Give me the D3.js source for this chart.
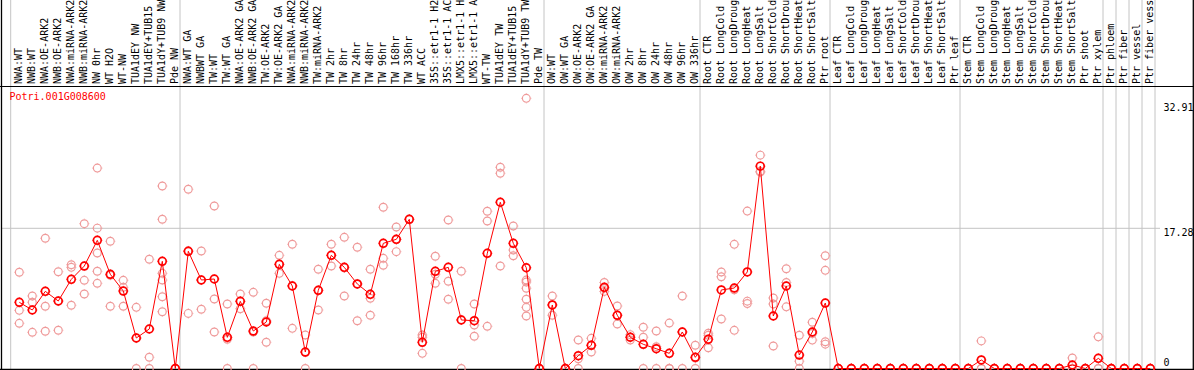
<!DOCTYPE html>
<meta charset="utf-8">
<style>
body { margin: 0; background: #fff; }
text { font-family: "DejaVu Sans Mono", monospace; font-size: 10px; }
</style>
<body>
<script src="https://d3js.org/d3.v7.min.js"></script>
<script>
// sample names, left to right
var labels = [
  "NWA:WT","NWB:WT","NWA:OE-ARK2","NWB:OE-ARK2","NWA:miRNA-ARK2","NWB:miRNA-ARK2","NW 0hr","WT H2O","WT-NW",
  "TUA1dEY NW","TUA1dEY+TUB15 NW","TUA1dY+TUB9 NW","Pde NW",
  "NWA:WT GA","NWBWT GA","TW:WT","TW:WT GA","NWA:OE-ARK2 GA","NWB:OE-ARK2 GA","TW:OE-ARK2","TW:OE-ARK2 GA",
  "NWA:miRNA-ARK2","NWB:miRNA-ARK2","TW:miRNA-ARK2","TW 2hr","TW 8hr","TW 24hr","TW 48hr","TW 96hr","TW 168hr","TW 336hr",
  "WT ACC","35S::etr1-1 H2O","35S::etr1-1 ACC","LMX5::etr1-1 H2O","LMX5::etr1-1 ACC","WT-TW","TUA1dEY TW",
  "TUA1dEY+TUB15 TW","TUA1dY+TUB9 TW","Pde TW",
  "OW:WT","OW:WT GA","OW:OE-ARK2","OW:OE-ARK2 GA","OW:miRNA-ARK2","OW:miRNA-ARK2 GA","OW 2hr","OW 8hr","OW 24hr",
  "OW 48hr","OW 96hr","OW 336hr",
  "Root CTR","Root LongCold","Root LongDrought","Root LongHeat","Root LongSalt","Root ShortCold","Root ShortDrought",
  "Root ShortHeat","Root ShortSalt","Ptr root",
  "Leaf CTR","Leaf LongCold","Leaf LongDrought","Leaf LongHeat","Leaf LongSalt","Leaf ShortCold","Leaf ShortDrought",
  "Leaf ShortHeat","Leaf ShortSalt","Ptr leaf",
  "Stem CTR","Stem LongCold","Stem LongDrought","Stem LongHeat","Stem LongSalt","Stem ShortCold","Stem ShortDrought",
  "Stem ShortHeat","Stem ShortSalt","Ptr shoot","Ptr xylem",
  "Ptr phloem","Ptr fiber","Ptr vessel","Ptr fiber vessel"
];

// number of samples in each separated block
var groupSizes = [13, 28, 12, 10, 10, 11, 1, 1, 1, 1];

// mean expression per sample
var means = [
  8.16, 7.21, 9.51, 8.32, 10.99, 12.63, 15.80, 11.61, 9.55, 3.76, 4.87, 13.21, 0,
  14.45, 10.91, 11.03, 3.84, 8.28, 4.62, 5.73, 12.84, 10.17, 2.03, 9.64, 13.95, 12.47, 10.42, 9.14, 15.43,
  15.92, 18.39, 3.23, 11.98, 12.47, 5.98, 5.89, 14.2, 20.49, 15.43, 12.42, 0,
  7.83, 0, 1.58, 2.86, 10.0, 6.56, 3.85, 2.98, 2.44, 1.87, 4.5, 1.38,
  3.6, 9.68, 9.92, 11.9, 24.94, 6.47, 10.17, 1.66, 4.5, 8.07,
  0, 0, 0, 0, 0, 0, 0, 0, 0, 0,
  0, 1.05, 0, 0, 0, 0, 0, 0, 0.43, 0, 1.25,
  0, 0, 0, 0
];

// individual replicates per sample
var replicates = [
  [11.86, 7.17, 5.57], [8.94, 8.16, 4.46], [16.05, 7.67, 4.59], [11.93, 8.3, 4.71], [12.79, 12.47, 7.79],
  [17.85, 10.87, 9.18], [24.7, 17.3, 14.24, 11.98, 10.5], [15.68, 11.5, 7.67], [10.87, 10.0, 7.67],
  [7.54, 3.74, 0], [13.46, 1.38, 0], [22.49, 18.39, 11.73, 10.9, 8.85, 7.0], [0, 0, 0],
  [22.09, 14.5, 6.79], [14.48, 10.9, 7.3], [20.03, 8.57, 4.5], [7.95, 3.6, 0], [9.18, 8.28, 7.37],
  [9.39, 4.5, 0], [8.04, 5.9, 3.23], [13.95, 12.84, 11.73], [15.31, 10.2, 4.95], [4.13, 2.0, 0],
  [12.23, 9.6, 7.21], [15.31, 13.95, 12.63], [16.17, 12.4, 8.94], [14.94, 10.42, 5.89],
  [12.23, 8.65, 6.56], [19.87, 13.58, 12.72], [17.44, 15.9, 14.4], [18.39], [4.13, 3.85, 1.87],
  [13.83, 11.61, 10.5], [18.3, 10.75, 8.53], [11.98, 6.0, 0], [7.95, 5.36, 3.97], [19.38, 18.18, 5.2],
  [24.8, 24.06, 12.63], [17.56, 14.6, 13.9], [33.3, 10.9, 10.66, 9.89, 8.53, 7.54, 6.47], [0, 0, 0],
  [8.94, 7.83, 6.56], [0, 0, 0], [3.51, 1.2, 0], [3.72, 2.86, 2.03], [10.6, 9.9, 9.5], [7.7, 6.56, 5.48],
  [4.17, 3.85, 3.51], [5.08, 3.85, 0], [4.62, 2.69, 0], [5.6, 0, 0], [8.94, 4.5, 0], [2.86, 1.3, 0],
  [4.34, 4.09, 2.56], [11.9, 11.3, 6.1], [15.3, 9.7, 4.7], [19.4, 8.3, 8.0], [26.3, 24.3, 24.2],
  [8.69, 7.95, 2.77], [12.3, 10.6, 7.6], [4.1, 0.9, 0], [5.7, 4.3, 3.5], [13.9, 12.1, 3.3, 3.0],
  [0, 0, 0], [0, 0, 0], [0, 0, 0], [0, 0, 0], [0, 0, 0], [0, 0, 0], [0, 0, 0], [0, 0, 0], [0, 0, 0], [0, 0, 0],
  [0, 0, 0], [3.4, 0, 0], [0, 0, 0], [0, 0, 0], [0, 0, 0], [0, 0, 0], [0, 0, 0], [0, 0, 0], [1.3, 0, 0],
  [0, 0, 0], [3.9, 0, 0],
  [0, 0, 0], [0, 0, 0], [0, 0, 0], [0, 0, 0]
];

var yTicks = [0, 17.28, 32.91];
var geneName = "Potri.001G008600";

var width = 1194, height = 370,
    headerH = 86.5, bottom = 369.3;

var svg = d3.select("body").append("svg")
    .attr("width", width)
    .attr("height", height);

// x: one slot per sample
var x = d3.scaleLinear()
    .domain([0, labels.length - 1])
    .range([19.3, 19.3 + 13 * (labels.length - 1)]);
var y = d3.scaleLinear()
    .domain([0, 32.91])
    .range([368.5, 101.5]);

// group separators
var sepX = [x(0) - 8.6];
var acc = 0;
groupSizes.forEach(function(n) { acc += n; sepX.push(x(acc - 1) + 4.7); });

svg.selectAll(".sep")
    .data(sepX)
    .enter().append("line")
    .attr("class", "sep")
    .attr("x1", function(d) { return d; }).attr("x2", function(d) { return d; })
    .attr("y1", 0).attr("y2", bottom)
    .attr("stroke", "#c4c4c4").attr("stroke-width", 1);

// grid line at the middle tick
svg.append("line")
    .attr("x1", 2).attr("x2", 1160)
    .attr("y1", y(yTicks[1])).attr("y2", y(yTicks[1]))
    .attr("stroke", "#c4c4c4").attr("stroke-width", 1);

// frame
svg.append("line").attr("x1", 0).attr("x2", width).attr("y1", headerH).attr("y2", headerH)
    .attr("stroke", "#000").attr("stroke-width", 1.2);
svg.append("line").attr("x1", 1.5).attr("x2", 1.5).attr("y1", 0).attr("y2", bottom)
    .attr("stroke", "#000").attr("stroke-width", 1.3);
svg.append("line").attr("x1", 1193.3).attr("x2", 1193.3).attr("y1", 0).attr("y2", bottom)
    .attr("stroke", "#000").attr("stroke-width", 1.3);
svg.append("line").attr("x1", 0).attr("x2", width).attr("y1", bottom).attr("y2", bottom)
    .attr("stroke", "#000").attr("stroke-width", 1.3);

// rotated sample labels (long ones run off the top, as in the source)
svg.selectAll(".lab")
    .data(labels)
    .enter().append("text")
    .attr("class", "lab")
    .attr("transform", function(d, i) { return "translate(" + (x(i) + 2.6) + "," + 84 + ") rotate(-90)"; })
    .attr("fill", "#000")
    .text(function(d) { return d; });

// y labels on the right
var yOff = [-3, 7.7, 9];
svg.selectAll(".ylab")
    .data(yTicks)
    .enter().append("text")
    .attr("class", "ylab")
    .attr("x", 1163.5)
    .attr("y", function(d, i) { return y(d) + yOff[i]; })
    .attr("fill", "#000")
    .text(function(d) { return d; });

svg.append("text")
    .attr("x", 9.5).attr("y", 100)
    .attr("fill", "#ff0000")
    .text(geneName);

function marker(sel, color, sw) {
    sel.append("circle")
        .attr("r", 3.9)
        .attr("fill", "none")
        .attr("stroke", color)
        .attr("stroke-width", sw);
    sel.append("path")
        .attr("d", "M0,-5V-4.4M0,4.4V5M-5,0H-4.4M4.4,0H5")
        .attr("stroke", color)
        .attr("stroke-width", 1);
}

// replicate points
var reps = [];
replicates.forEach(function(r, i) { r.forEach(function(v) { reps.push({i: i, v: v}); }); });
svg.selectAll(".rep")
    .data(reps)
    .enter().append("g")
    .attr("class", "rep")
    .attr("transform", function(d) { return "translate(" + x(d.i) + "," + y(d.v) + ")"; })
    .call(marker, "#ef9a9a", 1.2);

// mean line
var line = d3.line()
    .x(function(d, i) { return x(i); })
    .y(function(d) { return y(d); });
svg.append("path")
    .datum(means)
    .attr("d", line)
    .attr("fill", "none")
    .attr("stroke", "#ff0000")
    .attr("stroke-width", 1);

svg.selectAll(".mean")
    .data(means)
    .enter().append("g")
    .attr("class", "mean")
    .attr("transform", function(d, i) { return "translate(" + x(i) + "," + y(d) + ")"; })
    .call(marker, "#ff0000", 1.7);
</script>
</body>
